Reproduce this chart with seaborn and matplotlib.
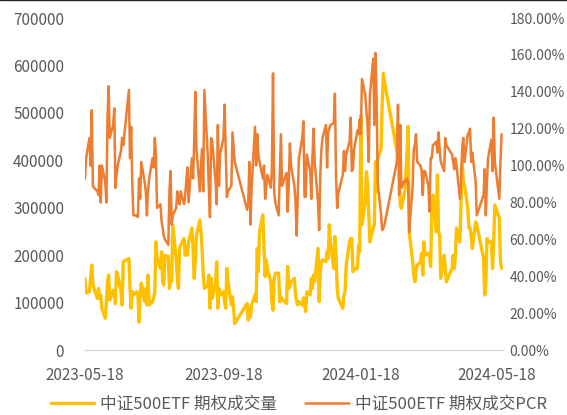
"""
中证500ETF 期权成交量 / 成交PCR, 2023-05-18 .. 2024-05-22, dual axis line chart.
Writes: out.png (567x415)
"""

import numpy as np
import pandas as pd
import matplotlib
matplotlib.use("Agg")
import matplotlib.pyplot as plt
import matplotlib.dates as mdates
from matplotlib.ticker import FuncFormatter, MultipleLocator
from matplotlib.lines import Line2D
import seaborn as sns

# ---------------------------------------------------------------------------
# Data
# ---------------------------------------------------------------------------
START, END = "2023-05-18", "2024-05-22"
# exchange holidays falling on weekdays
HOLIDAYS = [
    "2023-06-22", "2023-06-23", "2023-09-29",
    "2023-10-02", "2023-10-03", "2023-10-04", "2023-10-05", "2023-10-06",
    "2024-01-01", "2024-02-09",
    "2024-02-12", "2024-02-13", "2024-02-14", "2024-02-15", "2024-02-16",
    "2024-04-04", "2024-04-05",
    "2024-05-01", "2024-05-02", "2024-05-03",
]

# option volume, in thousands of contracts
VOLUME_K = [
    151, 120, 123, 150, 179, 140, 130, 109, 130, 109,                       # 2023-05
    116, 88, 67, 100, 144, 158, 105, 126, 123, 98, 165, 158, 123, 95, 186,  # 06 (1-21)
    193, 130, 88, 123, 116,                                                 # 06 (26-30)
    123, 116, 59, 116, 141, 102, 130, 95, 158, 95, 102, 110, 123, 228,
    193, 172, 207, 144, 137, 200, 197,                                      # 07
    130, 158, 144, 263, 193, 151, 130, 214, 221, 235, 200, 221, 200, 228,
    257, 214, 151, 193, 242, 274, 250, 214, 160,                            # 08
    130, 137, 158, 88, 151, 109, 144, 186, 88, 130, 116, 123,
    100, 88, 172, 144, 95, 112, 88, 56,                                     # 09
    98, 63, 88, 70, 95, 116, 102, 214, 165, 249, 285, 214, 155, 190,
    172, 144, 102,                                                          # 10
    84, 151, 162, 162, 102, 112, 109, 105, 98, 176, 130, 133, 144, 151,
    116, 102, 95, 102, 95, 110, 95, 81,                                     # 11
    123, 116, 151, 130, 158, 144, 214, 102, 165, 186, 190, 186, 207, 193,
    264, 228, 172, 239, 200, 130, 109,                                      # 12
    88, 116, 125, 179, 228, 235, 235, 165, 170, 172, 221, 207, 495, 264,
    313, 376, 348, 285, 228, 257, 264, 397,                                 # 2024-01
    334, 404, 425, 523, 583, 566,
    420, 474, 390, 306, 299, 334, 369, 420, 471,                            # 02
    249, 186, 158, 144, 165, 179, 186, 204, 158, 228, 200, 204, 200, 176,
    285, 327, 249, 369, 249, 242, 151,                                      # 03
    200, 172, 144, 172, 200, 172, 200, 257, 228, 313, 397, 355, 348, 299,
    257, 257, 242, 214, 270, 264,                                           # 04
    193, 116, 137, 235, 228, 228, 172, 228, 306, 299, 278, 186, 172,        # 05
]

# put/call ratio of traded volume, percent
PCR_PCT = [
    93, 104, 115, 100, 130, 89, 88, 86, 84, 100,                            # 2023-05
    80, 100, 91, 80, 126, 143, 115, 122, 131, 88, 95, 100, 108, 115, 111,   # 06 (1-21)
    141, 104, 121, 90, 73,                                                  # 06 (26-30)
    73, 72, 93, 82, 102, 91, 86, 73, 86, 93, 104, 99, 115, 106,
    77, 79, 70, 66, 62, 60, 57,                                             # 07
    86, 97, 68, 73, 77, 86, 82, 79, 86, 79, 84, 92, 99, 80,
    104, 93, 113, 140, 109, 86, 100, 109, 86,                               # 08
    141, 106, 88, 72, 115, 113, 91, 79, 122, 89, 106, 115,
    133, 108, 83, 86, 89, 118, 110, 102,                                    # 09
    76, 80, 102, 68, 88, 121, 100, 117, 106, 102, 93, 100, 82, 89,
    95, 88, 98,                                                             # 10
    150, 86, 80, 73, 95, 117, 89, 91, 96, 75, 90, 112, 100, 89,
    80, 62, 85, 104, 115, 124, 83, 83,                                      # 11
    106, 97, 82, 104, 120, 102, 80, 65, 95, 109, 115, 122, 99, 118,
    120, 122, 123, 139, 93, 77, 85,                                         # 12
    95, 108, 97, 106, 113, 126, 97, 98, 109, 119, 117, 125, 117, 147,
    138, 129, 122, 102, 138, 158, 122, 161,                                 # 2024-01
    136, 91, 73, 65, 66, 68,
    102, 133, 84, 122, 88, 92, 91, 93, 91,                                  # 02
    64, 89, 109, 111, 117, 102, 100, 97, 84, 97, 97, 89, 75, 104,
    104, 111, 113, 107, 118, 109, 102,                                      # 03
    97, 115, 111, 106, 102, 98, 104, 100, 82, 91, 109, 115, 102, 117,
    118, 120, 102, 107, 91, 73,                                             # 04
    84, 98, 73, 91, 104, 114, 97, 126, 102, 97, 82, 102, 117,               # 05
]

X_TICKS = ["2023-05-18", "2023-09-18", "2024-01-18", "2024-05-18"]
LABELS = ["中证500ETF 期权成交量", "中证500ETF 期权成交PCR"]

# ---------------------------------------------------------------------------
# Style
# ---------------------------------------------------------------------------
YELLOW = "#FFC000"
ORANGE = "#ED7D31"
TEXT_COL = "#595959"
AXIS_COL = "#D9D9D9"
FS_TICK = 11
FS_RIGHT = 10
FS_LEG = 12


def main():
    sns.set_style("white")
    plt.rcParams["font.family"] = ["Noto Sans CJK SC", "DejaVu Sans"]

    days = pd.bdate_range(START, END)
    days = days[~days.isin(pd.to_datetime(HOLIDAYS))]
    df = pd.DataFrame({
        "date": days,
        "volume": np.array(VOLUME_K) * 1000,
        "pcr": PCR_PCT,
    })

    fig = plt.figure(figsize=(5.67, 4.15), dpi=100)
    ax = fig.add_axes([0.1499, 0.1566, 0.7367, 0.80])
    ax2 = ax.twinx()

    sns.lineplot(data=df, x="date", y="volume", ax=ax, color=YELLOW,
                 linewidth=2.4, estimator=None)
    sns.lineplot(data=df, x="date", y="pcr", ax=ax2, color=ORANGE,
                 linewidth=1.8, estimator=None)

    ax.set_xlim(pd.Timestamp("2023-05-18"), pd.Timestamp("2024-05-23"))
    ax.set_ylim(0, 700000)
    ax2.set_ylim(0, 180)
    ax.yaxis.set_major_locator(MultipleLocator(100000))
    ax2.yaxis.set_major_locator(MultipleLocator(20))
    ax.yaxis.set_major_formatter(FuncFormatter(lambda v, _: f"{v:.0f}"))
    ax2.yaxis.set_major_formatter(FuncFormatter(lambda v, _: f"{v:.2f}%"))

    ax.set_xticks([pd.Timestamp(d) for d in X_TICKS])
    ax.xaxis.set_major_formatter(mdates.DateFormatter("%Y-%m-%d"))

    for a in (ax, ax2):
        a.set_xlabel("")
        a.set_ylabel("")
        for sp in a.spines.values():
            sp.set_visible(False)
    ax.spines["bottom"].set_visible(True)
    ax.spines["bottom"].set_color(AXIS_COL)
    ax.spines["bottom"].set_linewidth(1.0)

    ax.tick_params(axis="x", length=4, width=1, color=AXIS_COL, pad=8,
                   labelsize=FS_TICK, labelcolor=TEXT_COL)
    ax.tick_params(axis="y", length=0, pad=15, labelsize=FS_TICK, labelcolor=TEXT_COL)
    ax2.tick_params(axis="y", length=0, pad=5, labelsize=FS_RIGHT, labelcolor=TEXT_COL)

    handles = [Line2D([], [], color=YELLOW, linewidth=2.4),
               Line2D([], [], color=ORANGE, linewidth=1.8)]
    fig.legend(handles, LABELS, loc="lower center", bbox_to_anchor=(0.527, -0.03),
               ncol=2, frameon=False, fontsize=FS_LEG, labelcolor=TEXT_COL,
               handlelength=2.6, handletextpad=0.35, columnspacing=1.7)

    # thin dark rule along the very top edge, as in the source screenshot
    fig.add_artist(Line2D([0, 1], [0.999, 0.999], transform=fig.transFigure,
                          color="#222222", linewidth=1.0))

    fig.savefig("out.png", dpi=100)
    plt.close(fig)


if __name__ == "__main__":
    main()
